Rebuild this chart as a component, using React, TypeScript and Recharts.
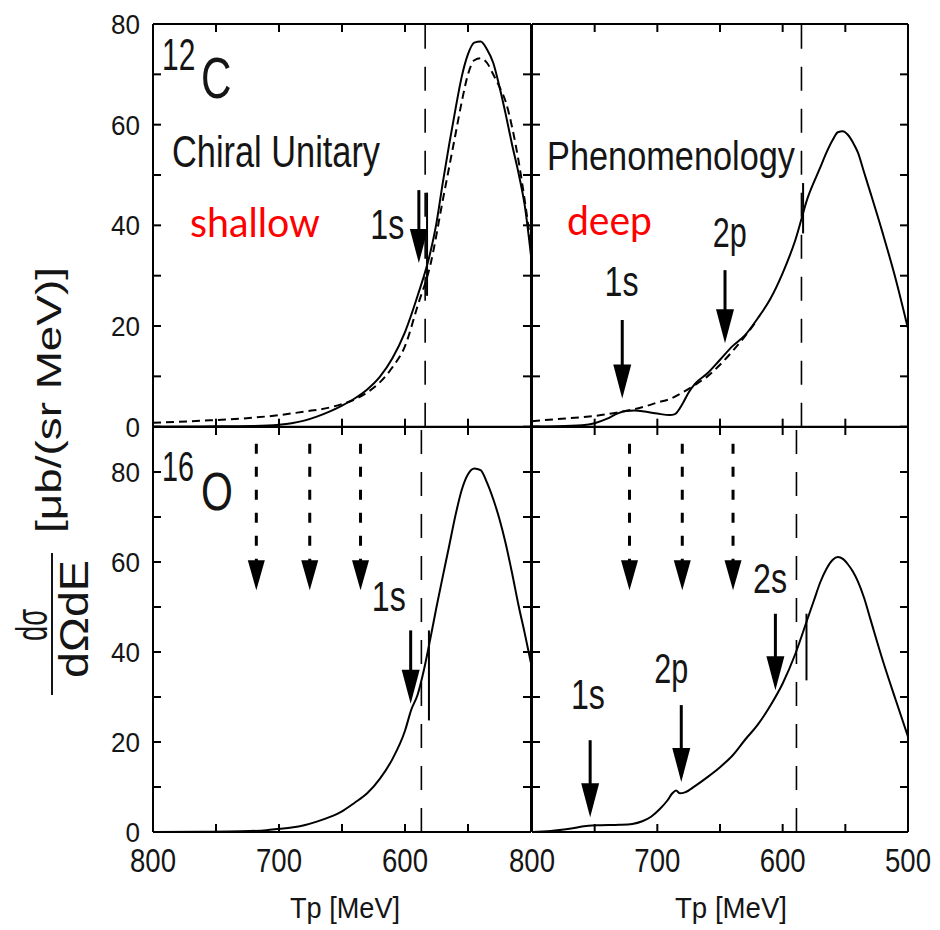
import { LineChart, Line, XAxis, YAxis, ReferenceLine, ReferenceDot } from 'recharts'

// proton kinetic energy axis (reversed, 800 -> 500 MeV)
const tpTicks = [800, 750, 700, 650, 600, 550, 500]
const topYTicks = [0, 10, 20, 30, 40, 50, 60, 70, 80]
const bottomYTicks = [0, 10, 20, 30, 40, 50, 60, 70, 80, 90]
const leftXLabels = [800, 700, 600]
const rightXLabels = [800, 700, 600, 500]

// 12C, chiral unitary (shallow)
const cChiralTp = [800, 760, 720, 700, 690, 680, 670, 660, 650, 640, 630, 620, 610, 600, 590, 580, 575, 570, 565, 560, 555, 550, 545, 540, 535, 530, 525, 520, 515, 510, 505, 500]
const cChiralSolid = [0, 0.05, 0.15, 0.4, 0.7, 1.2, 2.0, 3.0, 4.2, 5.6, 7.4, 9.9, 13.6, 18.8, 26.0, 34.5, 40.5, 48.5, 56, 63, 69.5, 74, 76.3, 76.5, 75, 72.3, 67.5, 62, 56, 50.5, 44, 34]
const cChiralDashTp = [800, 760, 720, 700, 680, 660, 650, 640, 630, 620, 610, 600, 590, 580, 570, 560, 555, 550, 545, 540, 535, 530, 525, 520, 515, 510, 505, 500]
const cChiralDash = [0.8, 1.2, 1.8, 2.3, 3.0, 3.8, 4.5, 5.4, 6.8, 8.8, 11.8, 16, 24, 32, 45, 58, 64.5, 70, 72.8, 73.2, 72.3, 70, 67.5, 64.5, 59.5, 53, 45, 36]

// 12C, phenomenology (deep)
const cPhenoTp = [800, 780, 760, 750, 740, 732, 725, 718, 710, 700, 690, 686, 680, 675, 670, 660, 650, 640, 630, 620, 610, 600, 590, 580, 570, 565, 560, 556, 552, 548, 544, 540, 535, 530, 520, 510, 500]
const cPhenoSolid = [0.05, 0.1, 0.3, 0.7, 1.6, 2.6, 3.1, 3.2, 3.0, 2.6, 2.3, 2.5, 4.5, 6.8, 8.5, 10.6, 13.3, 16.0, 18.2, 21.5, 25.3, 30.5, 37, 45.5, 51.5, 54.5, 57, 58.5, 58.7, 58, 56.5, 54.5, 50.5, 46.5, 38.3, 29.5, 19.5]
const cPhenoDashTp = [800, 780, 760, 745, 730, 720, 710, 700, 690, 680, 670, 660, 650, 640, 630, 620]
const cPhenoDash = [1.1, 1.5, 1.9, 2.3, 2.9, 3.4, 4.0, 4.8, 5.5, 6.8, 8.3, 10.0, 12.3, 15.0, 18.0, 21.3]

// 16O, chiral unitary (shallow)
const oChiralTp = [800, 760, 730, 710, 700, 690, 680, 670, 660, 650, 640, 630, 620, 610, 600, 595, 590, 585, 580, 575, 570, 565, 560, 555, 550, 545, 540, 535, 530, 525, 520, 515, 510, 505, 500]
const oChiralSolid = [0, 0.05, 0.15, 0.4, 0.7, 1.0, 1.5, 2.3, 3.3, 4.6, 6.5, 8.6, 11.8, 16.2, 22.5, 27.2, 30.5, 36, 42.8, 50, 56.8, 63.5, 70.3, 76, 79.5, 80.8, 80.4, 77.7, 74, 69.5, 64, 57.5, 50.5, 44.2, 37.5]

// 16O, phenomenology (deep)
const oPhenoTp = [800, 785, 770, 755, 745, 730, 720, 712, 705, 698, 692, 688, 685, 682, 678, 670, 660, 650, 640, 630, 620, 610, 600, 590, 580, 575, 570, 565, 560, 556, 552, 548, 544, 540, 535, 530, 520, 510, 500]
const oPhenoSolid = [0, 0.2, 0.7, 1.4, 1.5, 1.6, 1.8, 2.4, 3.4, 5.1, 7.0, 8.6, 9.2, 8.6, 8.8, 10.2, 12.2, 14.4, 17.0, 20.5, 23.8, 28, 33.0, 39.5, 47.5, 51.5, 55.5, 58.5, 60.5, 61.1, 60.7, 59.5, 57.9, 55.7, 52, 47.3, 38, 29.5, 21.2]

// threshold guide (dashed vertical) per panel
const guideTp = [584, 585, 587, 589]

// level arrows: position, start value, tip value
const cChiralArrows = [{ tp: 589, from: 47, to: 32.5, dashed: false }]
const cPhenoArrows = [
  { tp: 728, from: 21.2, to: 5.6, dashed: false },
  { tp: 646, from: 31.1, to: 16.6, dashed: false },
]
const oChiralArrows = [
  { tp: 718, from: 86.3, to: 53.7, dashed: true },
  { tp: 675.6, from: 86.3, to: 53.7, dashed: true },
  { tp: 635.3, from: 86.3, to: 53.7, dashed: true },
  { tp: 595.5, from: 44.8, to: 28.5, dashed: false },
]
const oPhenoArrows = [
  { tp: 722.2, from: 86.3, to: 53.7, dashed: true },
  { tp: 680.1, from: 86.3, to: 53.7, dashed: true },
  { tp: 639.6, from: 86.3, to: 53.7, dashed: true },
  { tp: 753.6, from: 20.4, to: 3.3, dashed: false },
  { tp: 680.9, from: 28.2, to: 11.1, dashed: false },
  { tp: 605.8, from: 48.5, to: 31.5, dashed: false },
]

// short solid marks near threshold
const cChiralMarks = [{ tp: 582.5, from: 46.5, to: 26 }]
const cPhenoMarks = [{ tp: 583.7, from: 48.4, to: 38.4 }]
const oChiralMarks = [{ tp: 581, from: 44.8, to: 24.8 }]
const oPhenoMarks = [{ tp: 581, from: 48.5, to: 33.7 }]

// arrow labels
const cChiralLabels = [{ text: '1s', tp: 614, v: 40.3 }]
const cPhenoLabels = [
  { text: '1s', tp: 728.6, v: 28.9 },
  { text: '2p', tp: 642.3, v: 38.7 },
]
const oChiralLabels = [{ text: '1s', tp: 612.8, v: 52.4 }]
const oPhenoLabels = [
  { text: '1s', tp: 755.4, v: 30.6 },
  { text: '2p', tp: 688.9, v: 36.4 },
  { text: '2s', tp: 610.1, v: 56.4 },
]

const FONT = '"Liberation Sans", Arial, Helvetica, sans-serif'
const INK = '#151515'
const TICK = 8

const TOP_H = 402.7
const BOT_H = 405
const boxTL = { left: 153, top: 24, width: 378, height: TOP_H }
const boxTR = { left: 532, top: 24, width: 376, height: TOP_H }
const boxBL = { left: 153, top: 426.7, width: 378, height: BOT_H }
const boxBR = { left: 532, top: 426.7, width: 376, height: BOT_H }

const rows = (tp: number[], v: number[]) => tp.map((t, i) => ({ tp: t, v: v[i] }))

const xTick = (labels: number[]) => (p: any) => {
  const v = p.payload.value
  if (!labels.includes(v)) return <g />
  return (
    <text x={p.x} y={p.y} dy="0.71em" textAnchor="middle" fontSize={34} fontFamily={FONT} fill={INK}
      textLength={46} lengthAdjust="spacingAndGlyphs">{v}</text>
  )
}

const yTick = (show: boolean) => (p: any) => {
  const v = p.payload.value
  if (!show || v % 20 !== 0) return <g />
  const s = String(v)
  return (
    <text x={p.x} y={p.y} dy="0.36em" textAnchor="end" fontSize={28} fontFamily={FONT} fill={INK}
      textLength={14.5 * s.length} lengthAdjust="spacingAndGlyphs">{s}</text>
  )
}

const arrowShape = (dashed: boolean) => (p: any) => {
  const { x1, y1, x2, y2 } = p
  const w = dashed ? 17 : 18
  const h = dashed ? 30 : 34
  return (
    <g>
      <line x1={x1} y1={y1} x2={x2} y2={y2 - h + 4} stroke="#000" strokeWidth={3}
        strokeDasharray={dashed ? '10 13' : undefined} />
      <path d={`M${x2 - w / 2},${y2 - h} L${x2 + w / 2},${y2 - h} L${x2},${y2} Z`} fill="#000" />
    </g>
  )
}

const labelShape = (text: string) => (p: any) => (
  <text x={p.cx} y={p.cy} dy="0.36em" textAnchor="middle" fontSize={42} fontFamily={FONT} fill={INK}
    textLength={34} lengthAdjust="spacingAndGlyphs">{text}</text>
)

type Box = { left: number; top: number; width: number; height: number }
type Series = { tp: number[]; v: number[]; dashed?: boolean }
type Arrow = { tp: number; from: number; to: number; dashed: boolean }
type Mark = { tp: number; from: number; to: number }
type Label = { text: string; tp: number; v: number }

function Panel(props: {
  box: Box; yMax: number; yTicks: number[]; series: Series[]; guide: number
  arrows: Arrow[]; marks: Mark[]; labels: Label[]; xLabels: number[]; yLabels: boolean
}) {
  const { box, yMax, yTicks, series, guide, arrows, marks, labels, xLabels, yLabels } = props
  const L = 60, R = 32, T = 20, B = 70
  const axisLine = { stroke: '#000', strokeWidth: 2 }
  // negative tick size turns the tick marks into the frame
  const tickLine = { stroke: '#000', strokeWidth: 2 }
  return (
    <div style={{ position: 'absolute', left: box.left - L, top: box.top - T }}>
      <LineChart width={box.width + L + R} height={box.height + T + B} margin={{ top: 0, right: 0, bottom: 0, left: 0 }}>
        <XAxis xAxisId="b" dataKey="tp" type="number" domain={[500, 800]} reversed ticks={tpTicks} interval={0}
          orientation="bottom" height={B} tickSize={-TICK} tickMargin={TICK + 15.5} axisLine={axisLine} tickLine={tickLine}
          tick={xTick(xLabels)} allowDataOverflow />
        <XAxis xAxisId="t" dataKey="tp" type="number" domain={[500, 800]} reversed ticks={tpTicks} interval={0}
          orientation="top" height={T} tickSize={-TICK} axisLine={axisLine} tickLine={tickLine}
          tick={xTick([])} allowDataOverflow />
        <YAxis yAxisId="l" type="number" domain={[0, yMax]} ticks={yTicks} interval={0} orientation="left" width={L}
          tickSize={-TICK} tickMargin={TICK + 13} axisLine={axisLine} tickLine={tickLine} tick={yTick(yLabels)} allowDataOverflow />
        <YAxis yAxisId="r" type="number" domain={[0, yMax]} ticks={yTicks} interval={0} orientation="right" width={R}
          tickSize={-TICK} axisLine={axisLine} tickLine={tickLine} tick={yTick(false)} allowDataOverflow />
        <ReferenceLine xAxisId="b" yAxisId="l" x={guide} stroke="#000" strokeWidth={1.6} strokeDasharray="24 18" />
        {marks.map((m, i) => (
          <ReferenceLine key={'m' + i} xAxisId="b" yAxisId="l" stroke="#000" strokeWidth={2}
            segment={[{ x: m.tp, y: m.from }, { x: m.tp, y: m.to }]} />
        ))}
        {series.map((s, i) => (
          <Line key={i} xAxisId="b" yAxisId="l" data={rows(s.tp, s.v)} dataKey="v" type="monotone" stroke="#000"
            strokeWidth={2} strokeDasharray={s.dashed ? '8 5' : undefined} dot={false} isAnimationActive={false} />
        ))}
        {arrows.map((a, i) => (
          <ReferenceLine key={'a' + i} xAxisId="b" yAxisId="l" shape={arrowShape(a.dashed)}
            segment={[{ x: a.tp, y: a.from }, { x: a.tp, y: a.to }]} />
        ))}
        {labels.map((l, i) => (
          <ReferenceDot key={'l' + i} xAxisId="b" yAxisId="l" x={l.tp} y={l.v} r={0} shape={labelShape(l.text)} />
        ))}
      </LineChart>
    </div>
  )
}

export default function App() {
  return (
    <div style={{ position: 'absolute', left: 0, top: 0, width: 940, height: 930, background: '#fff', overflow: 'hidden' }}>
      <Panel box={boxTL} yMax={80} yTicks={topYTicks}
        series={[{ tp: cChiralDashTp, v: cChiralDash, dashed: true }, { tp: cChiralTp, v: cChiralSolid }]}
        guide={guideTp[0]} arrows={cChiralArrows} marks={cChiralMarks} labels={cChiralLabels} xLabels={[]} yLabels />
      <Panel box={boxTR} yMax={80} yTicks={topYTicks}
        series={[{ tp: cPhenoDashTp, v: cPhenoDash, dashed: true }, { tp: cPhenoTp, v: cPhenoSolid }]}
        guide={guideTp[1]} arrows={cPhenoArrows} marks={cPhenoMarks} labels={cPhenoLabels} xLabels={[]} yLabels={false} />
      <Panel box={boxBL} yMax={90} yTicks={bottomYTicks}
        series={[{ tp: oChiralTp, v: oChiralSolid }]}
        guide={guideTp[2]} arrows={oChiralArrows} marks={oChiralMarks} labels={oChiralLabels} xLabels={leftXLabels} yLabels />
      <Panel box={boxBR} yMax={90} yTicks={bottomYTicks}
        series={[{ tp: oPhenoTp, v: oPhenoSolid }]}
        guide={guideTp[3]} arrows={oPhenoArrows} marks={oPhenoMarks} labels={oPhenoLabels} xLabels={rightXLabels} yLabels={false} />

      <svg width={940} height={930} style={{ position: 'absolute', left: 0, top: 0, pointerEvents: 'none' }}>
        <g fontFamily={FONT} fill={INK}>
          <text transform="translate(162,70) scale(0.68,1)" fontSize={44}>12</text>
          <text transform="translate(201,98) scale(0.74,1)" fontSize={57}>C</text>
          <text transform="translate(162,481) scale(0.685,1)" fontSize={42}>16</text>
          <text transform="translate(201,510) scale(0.76,1)" fontSize={54}>O</text>
          <text x={172} y={167} fontSize={44} textLength={208} lengthAdjust="spacingAndGlyphs">Chiral Unitary</text>
          <text x={547} y={170} fontSize={40} textLength={248} lengthAdjust="spacingAndGlyphs">Phenomenology</text>
          <text x={345} y={918} fontSize={30} textAnchor="middle" textLength={110} lengthAdjust="spacingAndGlyphs">Tp [MeV]</text>
          <text x={731} y={918} fontSize={30} textAnchor="middle" textLength={112} lengthAdjust="spacingAndGlyphs">Tp [MeV]</text>
          <text transform="translate(61,400) rotate(-90)" fontSize={35} textAnchor="middle" textLength={266}
            lengthAdjust="spacingAndGlyphs">[μb/(sr MeV)]</text>
          <text transform="translate(47,625) rotate(-90)" fontSize={44} textAnchor="middle" textLength={32}
            lengthAdjust="spacingAndGlyphs">dσ</text>
          <text transform="translate(88,619) rotate(-90)" fontSize={41} textAnchor="middle" textLength={118}
            lengthAdjust="spacingAndGlyphs">dΩdE</text>
          <line x1={52} y1={553} x2={52} y2={695} stroke={INK} strokeWidth={2} />
        </g>
        <g fontFamily="Lato, 'Open Sans', sans-serif" fill="#ff0000">
          <text x={190} y={237} fontSize={40} textLength={130} lengthAdjust="spacingAndGlyphs">shallow</text>
          <text x={567} y={235} fontSize={40} textLength={85} lengthAdjust="spacingAndGlyphs">deep</text>
        </g>
      </svg>
    </div>
  )
}
